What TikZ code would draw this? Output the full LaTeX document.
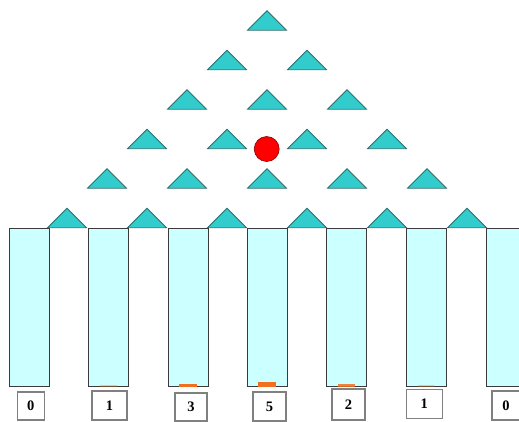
\documentclass[tikz,border=0pt]{standalone}
\usepackage{fontspec}
\setmainfont{Liberation Serif}
\definecolor{trifill}{HTML}{33CCCC}
\definecolor{triedge}{HTML}{2E6E6E}
\definecolor{binfill}{HTML}{CCFFFF}
\definecolor{binedge}{HTML}{3A3A3A}
\definecolor{boxedge}{HTML}{808080}
\definecolor{ballred}{HTML}{FF0000}
\definecolor{balledge}{HTML}{8B0000}
\definecolor{pile}{HTML}{F07020}
\tikzset{
  peg/.style={fill=trifill,draw=triedge,line width=0.8pt,line join=miter},
  bin/.style={fill=binfill,draw=binedge,line width=0.9pt},
  lab/.style={draw=boxedge,line width=1.2pt,fill=white,inner sep=0pt,font=\fontsize{14.5}{14.5}\selectfont\bfseries},
  ball/.style={circle,fill=ballred,draw=balledge,line width=0.6pt,minimum size=25pt,inner sep=0pt},
  heap/.style={fill=pile,draw=none}
}
\begin{document}
\begin{tikzpicture}[x=1pt,y=-1pt]
\useasboundingbox (0,0) rectangle (519,421);
\clip (0,0) rectangle (519,421);
% bins
\foreach \i/\c in {0/29,1/108.3,2/188,3/267,4/346.7,5/426,6/506}{
  \draw[bin] (\c-20,228.3) rectangle (\c+20,386.7);
}
% pegs
\foreach \r in {0,...,5}{
  \foreach \k in {0,...,\r}{
    \pgfmathsetmacro{\cx}{267+40*(2*\k-\r)}
    \pgfmathsetmacro{\ay}{10.7+39.5*\r}
    \draw[peg] (\cx,\ay) -- (\cx+19.5,\ay+19.5) -- (\cx-19.5,\ay+19.5) -- cycle;
  }
}
% ball
\node[ball] (ball) at (266.7,149) {};
% piles
\fill[heap,opacity=0.35] (100,385.2) rectangle (117,386.7);
\fill[heap] (179,383.5) rectangle (196.5,386.7);
\fill[heap] (258,381.8) rectangle (276,386.7);
\fill[heap,opacity=0.85] (338,384) rectangle (355,386.7);
\fill[heap,opacity=0.35] (418,385.2) rectangle (434,386.7);
% label boxes
\node[lab,minimum width=27pt,minimum height=28pt] (l0) at (30.8,406) {0};
\node[lab,minimum width=35pt,minimum height=29pt] (l1) at (109.5,405.5) {1};
\node[lab,minimum width=32pt,minimum height=28pt] (l2) at (191,407) {3};
\node[lab,minimum width=33pt,minimum height=29pt] (l3) at (269.5,406.5) {5};
\node[lab,minimum width=33pt,minimum height=31pt] (l4) at (348.5,404.5) {2};
\node[lab,minimum width=36pt,minimum height=29pt] (l5) at (424.2,403.7) {1};
\node[lab,minimum width=28pt,minimum height=29pt] (l6) at (506,405.5) {0};
\end{tikzpicture}
\end{document}
